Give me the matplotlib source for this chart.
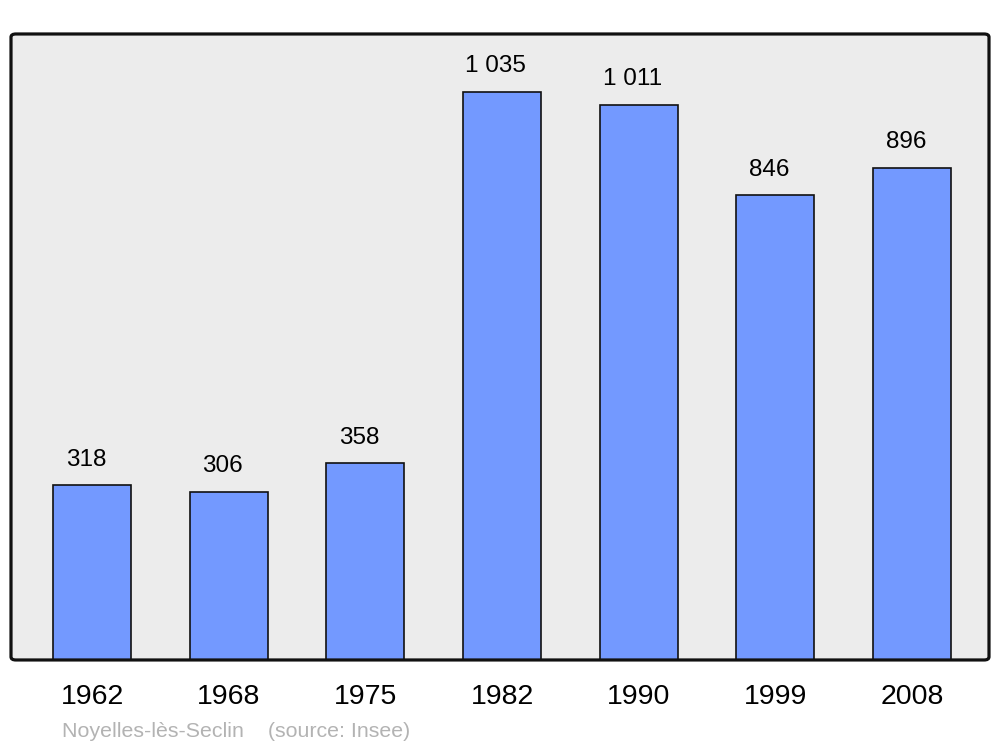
import matplotlib
matplotlib.use('Agg')
import matplotlib.pyplot as plt
from matplotlib.patches import FancyBboxPatch

plt.rcParams['font.family'] = ['Liberation Sans', 'DejaVu Sans']

years = ['1962', '1968', '1975', '1982', '1990', '1999', '2008']
population = [318, 306, 358, 1035, 1011, 846, 896]
value_labels = ['318', '306', '358', '1 035', '1 011', '846', '896']
footer = 'Noyelles-lès-Seclin    (source: Insee)'

fig = plt.figure(figsize=(10, 7.47), dpi=100)
ax = fig.add_axes([0.011, 0.1165, 0.978, 0.838])
ax.patch.set_visible(False)
for s in ax.spines.values():
    s.set_visible(False)

# background and frame with rounded corners
bg = FancyBboxPatch((0, 0), 1, 1, boxstyle='round,pad=0,rounding_size=0.005',
                    transform=ax.transAxes, facecolor='#ececec', edgecolor='none',
                    zorder=0, clip_on=False)
ax.add_patch(bg)
frame = FancyBboxPatch((0, 0), 1, 1, boxstyle='round,pad=0,rounding_size=0.005',
                       transform=ax.transAxes, facecolor='none', edgecolor='#111111',
                       linewidth=2.3, zorder=5, clip_on=False)
ax.add_patch(frame)

x = list(range(len(years)))
ax.bar(x, population, width=0.571, color='#7399ff', edgecolor='#111111',
       linewidth=1.2, zorder=2)

for xi, v, lab in zip(x, population, value_labels):
    ax.annotate(lab, (xi, v), xytext=(-4.5, 10.5), textcoords='offset points',
                ha='center', va='bottom', fontsize=17.5, color='black')

ax.set_xlim(-0.593, 6.563)
ax.set_ylim(0, 1140)
ax.set_yticks([])
ax.set_xticks(x)
ax.set_xticklabels(years, fontsize=20.5)
ax.tick_params(axis='x', length=0, pad=17.5)

fig.text(0.062, 0.0134, footer, fontsize=15.4, color='#b3b3b3', ha='left', va='baseline')

fig.savefig('out.png', dpi=100, facecolor='white')
